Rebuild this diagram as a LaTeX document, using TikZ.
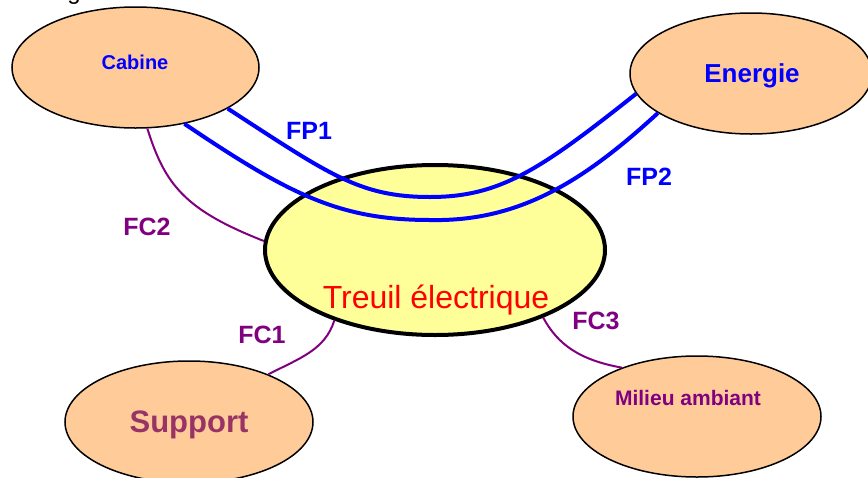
\documentclass[tikz,border=0pt]{standalone}
\usepackage{fontspec}
\setmainfont{Liberation Sans}
\usetikzlibrary{shapes.geometric}
\definecolor{peach}{HTML}{FFCC99}
\definecolor{lyellow}{HTML}{FFFF99}
\definecolor{fcpurple}{HTML}{800080}
\definecolor{plum}{HTML}{993366}
\begin{document}
\begin{tikzpicture}[x=1pt,y=-1pt,
  actor/.style={ellipse, draw=black, line width=1.5pt, fill=peach, inner sep=0pt},
  mainbox/.style={ellipse, draw=black, line width=4pt, fill=lyellow, inner sep=0pt},
  fpline/.style={draw=blue, line width=4pt},
  fcline/.style={draw=fcpurple, line width=2pt},
  lbl/.style={anchor=base, inner sep=0pt, font=\bfseries\fontsize{25}{25}\selectfont},
  fplbl/.style={lbl, text=blue},
  fclbl/.style={lbl, text=fcpurple}
]
\useasboundingbox (0,0) rectangle (868,477);
\fill[white] (0,0) rectangle (868,477);

\node[anchor=base, inner sep=0pt, font=\fontsize{24}{24}\selectfont] (frag) at (74,-0.5) {g};

% ellipses
\node[actor, minimum width=247pt, minimum height=121pt] (cab) at (135.5,67.5) {};
\node[actor, minimum width=242pt, minimum height=121pt] (ene) at (751,73.5) {};
\node[actor, minimum width=248pt, minimum height=122pt] (sup) at (189,422) {};
\node[actor, minimum width=248pt, minimum height=121pt] (mil) at (697,416.5) {};
\node[mainbox, minimum width=340pt, minimum height=170pt] (treu) at (435,250) {};

% texts
\node[anchor=base, inner sep=0pt, text=blue, font=\bfseries\fontsize{20}{20}\selectfont] (tcab) at (135,69) {Cabine};
\node[anchor=base, inner sep=0pt, text=blue, font=\bfseries\fontsize{26}{26}\selectfont] (tene) at (752,82) {Energie};
\node[anchor=base, inner sep=0pt, text=plum, font=\bfseries\fontsize{31}{31}\selectfont] (tsup) at (189,432) {Support};
\node[anchor=base, inner sep=0pt, text=fcpurple, font=\bfseries\fontsize{21}{21}\selectfont] (tmil) at (688,405) {Milieu ambiant};
\node[anchor=base, inner sep=0pt, text=red, font=\fontsize{32}{32}\selectfont] (ttreu) at (436,308) {Treuil électrique};

% FC connectors
\draw[fcline] (cab.-79) .. controls (165,185) and (185,210) .. (treu.177);
\draw[fcline] (treu.215) .. controls (325,350) and (300,358) .. (sup.31);
\draw[fcline] (treu.-32) .. controls (558,345) and (580,360) .. (mil.147);

% FP connectors
\draw[fpline] (cab.-24) .. controls (330,175) and (360,197) .. (430,197)
  .. controls (500,197) and (540,170) .. (ene.190);
\draw[fpline] (cab.-49) .. controls (290,195) and (340,220) .. (430,220)
  .. controls (520,222) and (585,180) .. (ene.203);

% labels
\node[fplbl] (lfp1) at (309,139) {FP1};
\node[fplbl] (lfp2) at (649,185) {FP2};
\node[fclbl] (lfc2) at (147,235) {FC2};
\node[fclbl] (lfc1) at (262,343) {FC1};
\node[fclbl] (lfc3) at (596,329) {FC3};
\end{tikzpicture}
\end{document}
